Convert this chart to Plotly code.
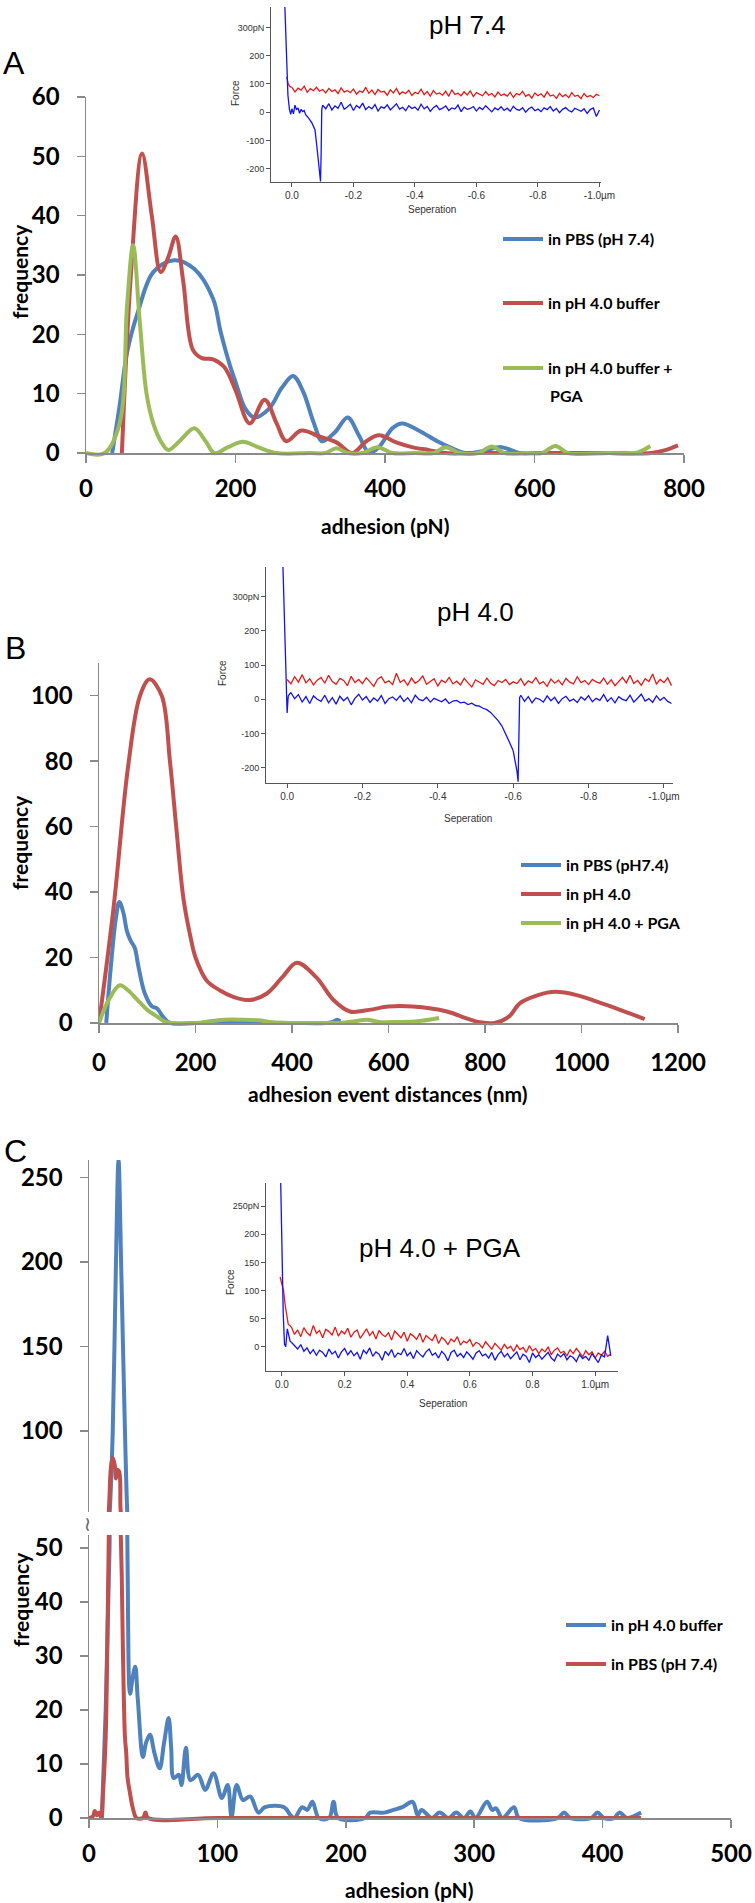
import plotly.graph_objects as go

W, H = 755, 1903

# ---------------- Panel A data (adhesion, pN) ----------------
a_pbs_x = [35, 45, 55, 70, 90, 118, 145, 170, 180, 192, 200, 213, 225, 245, 262, 277, 290, 305, 316, 333,
           350, 365, 379, 392, 410, 423, 445, 470, 490, 507, 530, 556, 580, 600]
a_pbs_y = [0, 8, 17, 24, 30.5, 32.5, 31, 26, 20.5, 15, 12, 7.5, 6, 7.5, 11, 13, 10.5, 5, 2, 3.5,
           6, 3, 0, 1, 4.2, 5, 3.8, 2, 0.8, 0, 0.3, 1, 0, 0]
a_ph4_x = [48, 60, 75, 88, 100, 110, 120, 130, 143, 155, 170, 185, 200, 219, 239, 255, 268, 288, 312, 335,
           356, 375, 392, 415, 436, 459, 480, 520, 560, 600, 640, 700, 756, 775, 792]
a_ph4_y = [0, 30, 50.5, 40, 30.5, 33, 36.5, 29, 17.4, 16, 15.8, 14.5, 10.6, 5, 9, 5, 2, 3.8, 2.8, 1.8,
           0, 2, 3, 1.8, 1, 0.5, 0, 0, 0, 0, 0, 0, 0, 0.5, 1.3]
a_pga_x = [0, 25, 45, 55, 63, 72, 81, 90, 100, 110, 125, 145, 160, 172, 190, 210, 230, 255, 300, 320,
           335, 350, 370, 390, 410, 440, 465, 481, 500, 525, 543, 560, 590, 610, 628, 645, 700, 735, 755]
a_pga_y = [0, 0, 5, 25, 35, 22, 10, 5, 2, 0.5, 2, 4.2, 2, 0, 1, 1.9, 1, 0, 0, 0,
           0.8, 0, 0, 1, 0, 0, 0, 1, 0, 0, 1.1, 0, 0, 0, 1.2, 0, 0, 0, 1.2]
a_xticks = [0, 200, 400, 600, 800]
a_yticks = [0, 10, 20, 30, 40, 50, 60]

# Inset A (pH 7.4 force curves), separation in um, force in pN
ia_red_app_x = [0.017, 0.012, 0.006, 0.0]
ia_red_app_y = [125, 100, 90, 88]
ia_red_base = [88, 72, 85, 78, 92, 70, 83, 76, 88, 74,
               80, 68, 84, 73, 79, 66, 86, 71, 77, 69,
               82, 64, 75, 70, 88, 67, 78, 62, 80, 71,
               74, 60, 79, 68, 84, 63, 72, 66, 77, 59,
               70, 65, 81, 62, 73, 57, 76, 64, 68, 60,
               74, 56, 79, 63, 67, 58, 72, 61, 75, 55,
               69, 62, 58, 73, 60, 66, 54, 71, 59, 64,
               57, 70, 52, 66, 61, 74, 56, 63, 50, 68,
               58, 65, 53, 72, 57, 61, 49, 67, 55, 62,
               51, 69, 56, 60, 48, 66, 54, 59, 52, 63, 58]
ia_blue_app_x = [0.023, 0.02, 0.017, 0.013, 0.008, 0.004, 0.0, -0.005, -0.01, -0.015,
                 -0.02, -0.025, -0.03, -0.035, -0.04, -0.045, -0.05, -0.055, -0.06, -0.065,
                 -0.07, -0.075, -0.08, -0.084, -0.087, -0.09, -0.093, -0.095, -0.097, -0.1]
ia_blue_app_y = [375, 260, 150, 60, 10, -8, 12, -6, 25, 8,
                 15, -4, 10, 2, 6, -10, -15, -25, -30, -38,
                 -50, -62, -110, -160, -195, -215, -245, -150, 10, 25]
ia_blue_base = [25, 12, 30, 8, 22, 14, 35, 10, 18, 28,
                6, 24, 15, 32, 9, 20, 12, 27, 4, 19,
                14, 26, 8, 21, 30, 11, 17, 5, 23, 13,
                18, 7, 28, 12, 20, 3, 16, 24, 9, 14,
                22, 6, 15, 11, 25, 2, 18, 10, 13, 20,
                4, 17, 9, 23, 12, 1, 15, 8, 19, 6,
                14, 3, 21, 10, 7, 16, 0, 12, 18, 5,
                11, 2, 15, 9, 20, 4, 13, -2, 10, 16,
                6, 1, 14, 8, 3, 12, -4, 9, 15, -15, 8]
ins_neg_xticks = [0, -0.2, -0.4, -0.6, -0.8, -1.0]
ins_neg_xtext = ['0.0', '-0.2', '-0.4', '-0.6', '-0.8', '-1.0µm']
ins_ab_yticks = [300, 200, 100, 0, -100, -200]
ins_ab_ytext = ['300pN', '200', '100', '0', '-100', '-200']

# ---------------- Panel B data (adhesion event distances, nm) ----------------
b_pbs_x = [15, 25, 35, 42, 50, 58, 66, 74, 82, 95, 110, 120, 132, 147, 200, 300, 400, 470, 485, 493, 500]
b_pbs_y = [0, 18, 32, 37, 34, 28, 25, 23, 17, 9, 5, 4.5, 2, 0, 0, 0, 0, 0, 0.3, 1, 0.5]
b_ph4_x = [0, 30, 60, 85, 105, 130, 147, 160, 175, 190, 200, 223, 250, 278, 313, 348, 380, 410, 450, 486,
           520, 560, 600, 650, 721, 760, 790, 820, 850, 872, 910, 945, 990, 1032, 1080, 1131]
b_ph4_y = [0, 35, 78, 100, 105, 100, 80, 60, 38, 26, 20, 13, 10, 8, 7, 9, 14, 18.4, 14, 7,
           3.5, 4, 5, 5, 3.5, 1.5, 0.2, 0, 2, 6, 8.5, 9.5, 8.5, 6.5, 4, 1.2]
b_pga_x = [0, 20, 43, 60, 80, 100, 120, 135, 150, 200, 230, 260, 300, 330, 360, 400, 450, 500, 530, 555,
           580, 620, 660, 705]
b_pga_y = [0, 7, 11.5, 10, 7, 4, 2, 0.5, 0, 0, 0.5, 1, 1, 0.8, 0.2, 0, 0, 0, 0.5, 1,
           0.3, 0.3, 0.5, 1.5]
b_xticks = [0, 200, 400, 600, 800, 1000, 1200]
b_yticks = [0, 20, 40, 60, 80, 100]

# Inset B (pH 4.0 force curves)
ib_red_base = [58, 45, 66, 50, 72, 48, 60, 42, 56, 64,
               47, 70, 52, 44, 61, 55, 40, 67, 49, 58,
               46, 63, 51, 38, 59, 66, 48, 54, 43, 76,
               50, 57, 41, 62, 47, 55, 68, 44, 52, 60,
               39, 56, 49, 64, 45, 53, 42, 61, 48, 36,
               57, 50, 44, 62, 47, 40, 55, 49, 58, 43,
               51, 46, 60, 41, 54, 48, 63, 45, 52, 38,
               59, 47, 56, 42, 61, 50, 45, 66, 49, 55,
               43, 58, 51, 47, 62, 44, 57, 40, 53, 64,
               48, 70, 46, 55, 41, 60, 52, 74, 45, 58,
               49, 63, 40]
ib_blue_app_x = [0.011, 0.008, 0.005, 0.002, 0.0, -0.003, -0.01]
ib_blue_app_y = [386, 280, 160, 50, -40, 10, 20]
ib_blue_part1 = [20, 2, 14, -8, 8, -12, 10, 0, -6, 12,
                 -10, 5, -14, 9, -4, 6, -16, 3, 15, -2,
                 8, -9, 4, -5, 11, -12, 2, 7, -3, 10,
                 -6, 5, -10, 12, 0, -4, 6, -8, 3, -2,
                 -7, 1, -12, -5, -3, -10, -8, -15, -11, -18,
                 -20, -26, -30, -38, -50, -62, -78, -100, -125, -150]
ib_blue_jump_x = [-0.60, -0.605, -0.61, -0.613, -0.615, -0.617, -0.62]
ib_blue_jump_y = [-150, -175, -210, -240, -120, 5, 12]
ib_blue_part2 = [12, -6, 8, -10, 4, 0, -8, 10, -4, 6,
                 -12, 2, 9, -5, 1, -9, 7, -2, 11, -7,
                 3, -3, 14, -6, 5, -10, 8, 0, -4, 12,
                 -8, 4, 15, -5, 2, -9, 10, -3, 6, -6, -12]

# ---------------- Panel C data (adhesion, pN) ----------------
c_ph4_x = [10, 13, 16, 18.5, 21, 23, 25, 28, 30, 32,
           34, 36, 38, 42, 44.5, 47.5, 51, 55, 58.5, 62,
           64, 66, 70, 72, 75.5, 79, 85, 90.5, 97, 103.5,
           108, 111, 115, 120, 125.5, 132, 137, 152, 157, 160,
           166, 170, 174, 179, 187, 190.5, 194, 215, 219, 230,
           237, 244, 252, 256, 259, 267, 273, 280, 286, 292,
           297, 301, 310, 314, 317, 322, 331, 335, 365, 370,
           375, 391, 396, 401, 409, 413, 419, 424, 430]
c_ph4_y = [0, 20, 50, 100, 200, 260, 200, 100, 48, 23,
           26, 28, 22, 11.3, 14, 15.4, 12, 9.2, 14, 18.5,
           13, 7.4, 8, 6.1, 13, 7, 8, 5.2, 8.3, 3.7,
           6.1, 0.2, 6.1, 3.3, 4, 1, 2, 2, 0.5, 0,
           2, 1.5, 3, 0, 0, 3, 0, 0, 1, 1,
           1.5, 2, 3, 0.5, 1.5, 0, 1, 0, 1, 0,
           1.2, 0, 3, 1.5, 1.8, 0, 2, 0, 0, 1,
           0, 0, 1, 0, 0, 1, 0, 0.3, 1]
c_pbs_x = [0, 3, 4.5, 6, 8, 9.5, 11, 13, 14, 15,
           16, 17, 18.5, 20, 21, 22, 23.5, 24.5, 25.5, 26.5,
           28, 29, 30, 32, 34, 37, 42, 44, 46, 100,
           200, 300, 430]
c_pbs_y = [0, 0.3, 1.3, 0.5, 1, 0, 5, 15, 28, 45,
           62, 78, 84, 80, 72, 77, 76, 55, 45, 30,
           15, 12, 7.5, 4.5, 2, 0, 0, 1, 0, 0,
           0, 0, 0]
c_xticks = [0, 100, 200, 300, 400, 500]
c_yticks_low = [0, 10, 20, 30, 40, 50]
c_yticks_high = [100, 150, 200, 250]

# Inset C (pH 4.0 + PGA force curves)
ic_red_app_x = [-0.006, 0.0, 0.005, 0.01, 0.015, 0.02, 0.03]
ic_red_app_y = [124, 110, 100, 75, 54, 40, 35]
ic_red_base = [35, 22, 30, 18, 34, 25, 20, 38, 24, 29,
               16, 31, 27, 21, 35, 19, 28, 23, 33, 17,
               26, 30, 15, 24, 32, 20, 27, 14, 29, 22,
               18, 25, 12, 28, 21, 16, 26, 10, 23, 19,
               13, 24, 8, 20, 15, 11, 22, 6, 17, 12,
               4, 14, 9, 18, 3, 10, 7, 13, 1, 8,
               5, -2, 9, 2, -4, 6, 0, -6, 4, -3,
               1, -8, 3, -5, -1, -10, 2, -7, -3, -12,
               -4, -9, 0, -14, -6, -2, -11, -8, -16, -5,
               -12, -3, -10, -18, -7, -14, -9, -20, -11, -15,
               -8, -17, -13]
ic_blue_app_x = [-0.004, 0.0, 0.004, 0.008, 0.012, 0.017, 0.022, 0.026, 0.03]
ic_blue_app_y = [291, 150, 60, 5, 0, 32, 18, 10, 8]
ic_blue_base = [8, 2, -4, 4, -8, -2, -12, -5, -15, -6,
                -10, -18, -4, -13, -8, -20, -9, -3, -14, -7,
                -16, -10, -22, -6, -12, -2, -17, -9, -13, -24,
                -8, -15, -5, -19, -11, -14, -3, -16, -10, -21,
                -7, -13, -18, -9, -4, -15, -11, -20, -8, -14,
                -25, -10, -6, -17, -12, -19, -9, -15, -22, -11,
                -7, -16, -13, -20, -10, -24, -14, -8, -18, -12,
                -21, -15, -9, -23, -13, -17, -28, -11, -19, -14,
                -22, -16, -10, -20, -25, -13, -18, -12, -23, -16,
                -19, -26, -14, -21, -17, -24, -12, -20, -28, -15,
                -18, 20, -16]
ins_pos_xticks = [0, 0.2, 0.4, 0.6, 0.8, 1.0]
ins_pos_xtext = ['0.0', '0.2', '0.4', '0.6', '0.8', '1.0µm']
ins_c_yticks = [250, 200, 150, 100, 50, 0]
ins_c_ytext = ['250pN', '200', '150', '100', '50', '0']

# ---------------- styling ----------------
BLUE, RED, GREEN = '#4F81BD', '#C0504D', '#9BBB59'
TBLUE, TRED = '#1414e6', '#e31a17'


def dx(a, b):
    return [a / W, b / W]


def dy(top, bottom):
    return [1 - bottom / H, 1 - top / H]


def py(p):
    return 1 - p / H


fig = go.Figure()


def main_line(x, y, color, name, xa, ya, legend, show=True):
    fig.add_trace(go.Scatter(x=x, y=y, mode='lines', name=name, xaxis=xa, yaxis=ya,
                             legend=legend, showlegend=show, hoverinfo='skip',
                             line=dict(color=color, width=4, shape='spline', smoothing=1.0)))


def trace_line(color, xa, ya, x=None, y=None, x0=None, dxv=None):
    kw = dict(mode='lines', xaxis=xa, yaxis=ya, showlegend=False, hoverinfo='skip',
              line=dict(color=color, width=1.3))
    if x is not None:
        fig.add_trace(go.Scatter(x=x, y=y, **kw))
    else:
        fig.add_trace(go.Scatter(y=y, x0=x0, dx=dxv, **kw))


# Panel A
main_line(a_pbs_x, a_pbs_y, BLUE, 'in PBS (pH 7.4)', 'x', 'y', 'legend')
main_line(a_ph4_x, a_ph4_y, RED, 'in pH 4.0 buffer', 'x', 'y', 'legend2')
main_line(a_pga_x, a_pga_y, GREEN, 'in pH 4.0 buffer +', 'x', 'y', 'legend3')
trace_line(TRED, 'x2', 'y2', x=ia_red_app_x, y=ia_red_app_y)
trace_line(TRED, 'x2', 'y2', y=ia_red_base, x0=0.0, dxv=-0.01)
trace_line(TBLUE, 'x2', 'y2', x=ia_blue_app_x, y=ia_blue_app_y)
trace_line(TBLUE, 'x2', 'y2', y=ia_blue_base, x0=-0.1, dxv=-0.01)

# Panel B
main_line(b_pbs_x, b_pbs_y, BLUE, 'in PBS (pH7.4)', 'x3', 'y3', 'legend4')
main_line(b_ph4_x, b_ph4_y, RED, 'in pH 4.0', 'x3', 'y3', 'legend5')
main_line(b_pga_x, b_pga_y, GREEN, 'in pH 4.0 + PGA', 'x3', 'y3', 'legend6')
trace_line(TRED, 'x4', 'y4', y=ib_red_base, x0=0.0, dxv=-0.01)
trace_line(TBLUE, 'x4', 'y4', x=ib_blue_app_x, y=ib_blue_app_y)
trace_line(TBLUE, 'x4', 'y4', y=ib_blue_part1, x0=-0.01, dxv=-0.01)
trace_line(TBLUE, 'x4', 'y4', x=ib_blue_jump_x, y=ib_blue_jump_y)
trace_line(TBLUE, 'x4', 'y4', y=ib_blue_part2, x0=-0.62, dxv=-0.01)

# Panel C (broken y axis: lower y5, upper y6)
main_line(c_ph4_x, c_ph4_y, BLUE, 'in pH 4.0 buffer', 'x5', 'y5', 'legend7')
main_line(c_pbs_x, c_pbs_y, RED, 'in PBS (pH 7.4)', 'x5', 'y5', 'legend8')
main_line(c_ph4_x, c_ph4_y, BLUE, 'in pH 4.0 buffer', 'x5', 'y6', 'legend7', show=False)
main_line(c_pbs_x, c_pbs_y, RED, 'in PBS (pH 7.4)', 'x5', 'y6', 'legend8', show=False)
trace_line(TRED, 'x6', 'y7', x=ic_red_app_x, y=ic_red_app_y)
trace_line(TRED, 'x6', 'y7', y=ic_red_base, x0=0.03, dxv=0.01)
trace_line(TBLUE, 'x6', 'y7', x=ic_blue_app_x, y=ic_blue_app_y)
trace_line(TBLUE, 'x6', 'y7', y=ic_blue_base, x0=0.03, dxv=0.01)

tickfont_main = dict(family='Lato', size=24, color='black', weight='bold')
main_ax = dict(showline=True, linecolor='#8a8a8a', linewidth=1.5, ticks='outside', ticklen=8,
               tickwidth=1.5, tickcolor='#8a8a8a', showgrid=False, zeroline=False,
               tickfont=tickfont_main, fixedrange=True, tickmode='array')
ins_ax = dict(showline=True, linecolor='#555555', linewidth=1, ticks='outside', ticklen=4,
              tickwidth=1, tickcolor='#555555', showgrid=False, zeroline=False, fixedrange=True,
              tickmode='array',
              tickfont=dict(family='Liberation Sans, Arial', size=10, color='#333333'))
ins_yfont = dict(family='Liberation Sans, Arial', size=9, color='#333333')

layout_axes = dict(
    xaxis=dict(main_ax, domain=dx(86, 684), range=[0, 800], tickvals=a_xticks,
               anchor='free', position=py(453), ticklabelstandoff=6),
    yaxis=dict(main_ax, domain=dy(97, 459), range=[-1, 60], tickvals=a_yticks, anchor='x',
               ticklabelstandoff=12),
    xaxis2=dict(ins_ax, domain=dx(271, 601), range=[0.068, -1.005], tickvals=ins_neg_xticks,
                ticktext=ins_neg_xtext, anchor='y2'),
    yaxis2=dict(ins_ax, domain=dy(7, 182), range=[-247, 372], tickvals=ins_ab_yticks,
                ticktext=ins_ab_ytext, anchor='x2', tickfont=ins_yfont),
    xaxis3=dict(main_ax, domain=dx(99, 678), range=[0, 1200], tickvals=b_xticks,
                anchor='free', position=py(1023), ticklabelstandoff=10),
    yaxis3=dict(main_ax, domain=dy(663, 1029.5), range=[-2, 110], tickvals=b_yticks, anchor='x3',
                ticklabelstandoff=12),
    xaxis4=dict(ins_ax, domain=dx(266, 673), range=[0.056, -1.024], tickvals=ins_neg_xticks,
                ticktext=ins_neg_xtext, anchor='y4'),
    yaxis4=dict(ins_ax, domain=dy(567, 783), range=[-244, 386], tickvals=ins_ab_yticks,
                ticktext=ins_ab_ytext, anchor='x4', tickfont=ins_yfont),
    xaxis5=dict(main_ax, domain=dx(89, 731), range=[0, 500], tickvals=c_xticks,
                anchor='free', position=py(1818), ticklabelstandoff=6),
    yaxis5=dict(main_ax, domain=dy(1535, 1824.5), range=[-1.2, 52.4], tickvals=c_yticks_low,
                anchor='x5', ticklabelstandoff=12),
    yaxis6=dict(main_ax, domain=dy(1160, 1512), range=[52.1, 260.4], tickvals=c_yticks_high,
                anchor='x5', ticklabelstandoff=12),
    xaxis6=dict(ins_ax, domain=dx(266, 618), range=[-0.051, 1.073], tickvals=ins_pos_xticks,
                ticktext=ins_pos_xtext, anchor='y7'),
    yaxis7=dict(ins_ax, domain=dy(1183, 1371), range=[-43, 291], tickvals=ins_c_yticks,
                ticktext=ins_c_ytext, anchor='x6', tickfont=ins_yfont),
)


def leg(xp, yp, yanchor='middle'):
    return dict(x=xp / W, y=py(yp), xanchor='left', yanchor=yanchor, bgcolor='rgba(0,0,0,0)',
                borderwidth=0, itemwidth=40,
                font=dict(family='Lato', size=16, color='black', weight='bold'))


legends = dict(
    legend=leg(498, 239), legend2=leg(498, 303), legend3=leg(498, 368),
    legend4=leg(516, 865), legend5=leg(516, 894), legend6=leg(516, 923),
    legend7=leg(561, 1625), legend8=leg(561, 1664),
)


def ann(text, x, y, size, family='Lato', bold=False, angle=0, xanchor='center', color='black'):
    return dict(text=text, x=x / W, y=py(y), xref='paper', yref='paper', showarrow=False,
                xanchor=xanchor, yanchor='middle', textangle=angle,
                font=dict(family=family, size=size, color=color, weight='bold' if bold else 'normal'))


ARIAL = 'Liberation Sans, Arial'
annotations = [
    ann('A', 14, 63, 32, family=ARIAL),
    ann('B', 15, 648, 32, family=ARIAL),
    ann('C', 15, 1151, 32, family=ARIAL),
    ann('pH 7.4', 467, 25, 26, family=ARIAL),
    ann('pH 4.0', 475, 612, 26, family=ARIAL),
    ann('pH 4.0 + PGA', 440, 1248, 26, family=ARIAL),
    ann('adhesion (pN)', 385, 525, 21, bold=True),
    ann('adhesion event distances (nm)', 388, 1093, 21, bold=True),
    ann('adhesion (pN)', 409, 1889, 21, bold=True),
    ann('frequency', 20, 272, 21, bold=True, angle=-90),
    ann('frequency', 20, 843, 21, bold=True, angle=-90),
    ann('frequency', 20, 1600, 21, bold=True, angle=-90),
    ann('PGA', 548, 395, 16, bold=True, xanchor='left'),
    ann('Seperation', 432, 210, 10, family=ARIAL, color='#333333'),
    ann('Seperation', 468, 818, 10, family=ARIAL, color='#333333'),
    ann('Seperation', 443, 1403, 10, family=ARIAL, color='#333333'),
    ann('Force', 236, 93, 10, family=ARIAL, angle=-90, color='#333333'),
    ann('Force', 222, 673, 10, family=ARIAL, angle=-90, color='#333333'),
    ann('Force', 230, 1282, 10, family=ARIAL, angle=-90, color='#333333'),
    ann('~', 88, 1524, 20, family='DejaVu Sans', angle=90, color='#666666'),
]

fig.update_layout(width=W, height=H, autosize=False, margin=dict(l=0, r=0, t=0, b=0),
                  paper_bgcolor='white', plot_bgcolor='rgba(0,0,0,0)', template='none',
                  annotations=annotations, **layout_axes, **legends)

fig.write_html('out.html', include_plotlyjs=True, config={'displayModeBar': False, 'staticPlot': True},
               post_script="document.body.style.margin='0';")
